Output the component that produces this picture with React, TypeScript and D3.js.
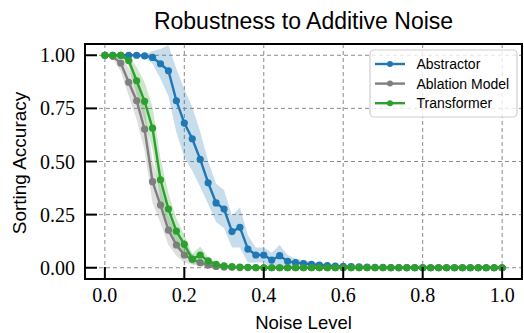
import React from "react";
import * as d3 from "d3";

const noise = d3.range(51).map((i) => +(i * 0.02).toFixed(2));

const abstractorMean = [
  1, 1, 1, 1, 1, 0.997, 0.99, 0.96, 0.927, 0.786, 0.681, 0.607, 0.51, 0.4, 0.305, 0.276, 0.17,
  0.19, 0.088, 0.06, 0.06, 0.036, 0.057, 0.03, 0.024, 0.02, 0.016, 0.013, 0.01, 0.008, 0.007,
  0.005, 0.004, 0.003, 0.002, 0.002, 0.001, 0.001, 0.001, 0.001, 0, 0, 0, 0, 0, 0, 0, 0, 0, 0, 0,
];
const abstractorStd = [
  0, 0, 0, 0, 0, 0.006, 0.03, 0.07, 0.12, 0.15, 0.16, 0.15, 0.13, 0.1, 0.09, 0.09, 0.075, 0.095,
  0.065, 0.035, 0.035, 0.035, 0.05, 0.03, 0.02, 0.015, 0.012, 0.01, 0.008, 0.006, 0.005, 0.004,
  0.003, 0.002, 0.002, 0.001, 0.001, 0.001, 0, 0, 0, 0, 0, 0, 0, 0, 0, 0, 0, 0, 0,
];
const ablationMean = [
  1, 0.995, 0.963, 0.873, 0.786, 0.652, 0.405, 0.295, 0.177, 0.107, 0.06, 0.04, 0.024, 0.012,
  0.006, 0.003, 0.002, 0.001, 0.001, 0, 0, 0, 0, 0, 0, 0, 0, 0, 0, 0, 0, 0, 0, 0, 0, 0, 0, 0, 0,
  0, 0, 0, 0, 0, 0, 0, 0, 0, 0, 0, 0,
];
const ablationStd = [
  0, 0.012, 0.04, 0.065, 0.09, 0.1, 0.1, 0.085, 0.07, 0.05, 0.035, 0.025, 0.017, 0.011, 0.006,
  0.003, 0.002, 0.001, 0, 0, 0, 0, 0, 0, 0, 0, 0, 0, 0, 0, 0, 0, 0, 0, 0, 0, 0, 0, 0, 0, 0, 0, 0,
  0, 0, 0, 0, 0, 0, 0, 0,
];
const transformerMean = [
  1, 1, 1, 0.975, 0.88, 0.783, 0.657, 0.414, 0.276, 0.172, 0.11, 0.041, 0.06, 0.032, 0.016,
  0.009, 0.005, 0.003, 0.002, 0.001, 0, 0, 0, 0, 0, 0, 0, 0, 0, 0, 0, 0, 0, 0, 0, 0, 0, 0, 0, 0,
  0, 0, 0, 0, 0, 0, 0, 0, 0, 0, 0,
];
const transformerStd = [
  0, 0, 0.005, 0.025, 0.065, 0.09, 0.1, 0.1, 0.075, 0.06, 0.045, 0.025, 0.04, 0.017, 0.01, 0.005,
  0.003, 0.002, 0.001, 0, 0, 0, 0, 0, 0, 0, 0, 0, 0, 0, 0, 0, 0, 0, 0, 0, 0, 0, 0, 0, 0, 0, 0, 0,
  0, 0, 0, 0, 0, 0, 0,
];

const seriesNames = ["Abstractor", "Ablation Model", "Transformer"];
const seriesColors = ["#1f77b4", "#7f7f7f", "#2ca02c"];
const xTicks = [0, 0.2, 0.4, 0.6, 0.8, 1.0];
const yTicks = [0, 0.25, 0.5, 0.75, 1.0];

const W = 524;
const H = 333;
const L = 85;
const R = 522;
const T = 44;
const B = 279;

export default function App() {
  const x = d3.scaleLinear().domain([-0.05, 1.05]).range([L, R]);
  const y = d3.scaleLinear().domain([-0.053, 1.053]).range([B, T]);
  const means = [abstractorMean, ablationMean, transformerMean];
  const stds = [abstractorStd, ablationStd, transformerStd];

  const line = d3
    .line<number>()
    .x((_, i) => x(noise[i]))
    .y((d) => y(d));
  const area = (m: number[], s: number[]) =>
    d3
      .area<number>()
      .x((_, i) => x(noise[i]))
      .y0((d, i) => y(d - s[i]))
      .y1((d, i) => y(d + s[i]))(m) as string;

  const sans = "'Liberation Sans', Arial, sans-serif";
  const serif = "'Liberation Serif', 'Times New Roman', serif";

  return (
    <svg
      width={W}
      height={H}
      style={{ position: "absolute", left: 0, top: 0, background: "#fff" }}
    >
      <defs>
        <clipPath id="plot">
          <rect x={L} y={T} width={R - L} height={B - T} />
        </clipPath>
      </defs>
      <rect x={0} y={0} width={W} height={H} fill="#fff" />
      {xTicks.map((t) => (
        <line
          key={"gx" + t}
          x1={x(t)}
          x2={x(t)}
          y1={T}
          y2={B}
          stroke="#8a8a8a"
          strokeWidth={1}
          strokeDasharray="4,3"
        />
      ))}
      {yTicks.map((t) => (
        <line
          key={"gy" + t}
          x1={L}
          x2={R}
          y1={y(t)}
          y2={y(t)}
          stroke="#8a8a8a"
          strokeWidth={1}
          strokeDasharray="4,3"
        />
      ))}
      <g clipPath="url(#plot)">
        {means.map((m, k) => (
          <g key={"s" + k}>
            <path d={area(m, stds[k])} fill={seriesColors[k]} fillOpacity={0.25} stroke="none" />
            <path d={line(m) as string} fill="none" stroke={seriesColors[k]} strokeWidth={2.4} />
            {m.map((v, i) => (
              <circle key={i} cx={x(noise[i])} cy={y(v)} r={3.6} fill={seriesColors[k]} />
            ))}
          </g>
        ))}
      </g>
      {xTicks.map((t) => (
        <g key={"tx" + t}>
          <line x1={x(t)} x2={x(t)} y1={B} y2={B - 12} stroke="#000" strokeWidth={2} />
          <text
            x={x(t)}
            y={301.5}
            textAnchor="middle"
            fontFamily={serif}
            fontSize={20}
            fill="#000"
          >
            {t.toFixed(1)}
          </text>
        </g>
      ))}
      {yTicks.map((t) => (
        <g key={"ty" + t}>
          <line x1={L} x2={L + 12} y1={y(t)} y2={y(t)} stroke="#000" strokeWidth={2} />
          <text
            x={75}
            y={y(t) + 7}
            textAnchor="end"
            fontFamily={serif}
            fontSize={20}
            fill="#000"
          >
            {t.toFixed(2)}
          </text>
        </g>
      ))}
      <rect x={L} y={T} width={R - L} height={B - T} fill="none" stroke="#000" strokeWidth={2} />
      <g>
        <rect
          x={370}
          y={50}
          width={147}
          height={67}
          rx={4}
          fill="#fff"
          fillOpacity={0.8}
          stroke="#d0d0d0"
          strokeWidth={1.2}
        />
        {seriesNames.map((n, k) => {
          const ly = 64 + k * 19.6;
          return (
            <g key={"lg" + k}>
              <line x1={375} x2={405} y1={ly} y2={ly} stroke={seriesColors[k]} strokeWidth={2.4} />
              <circle cx={390} cy={ly} r={3} fill={seriesColors[k]} />
              <text x={416.5} y={ly + 5} fontFamily={sans} fontSize={14} fill="#000">
                {n}
              </text>
            </g>
          );
        })}
      </g>
      <text
        x={(L + R) / 2}
        y={29}
        textAnchor="middle"
        fontFamily={sans}
        fontSize={23}
        fill="#000"
      >
        Robustness to Additive Noise
      </text>
      <text
        x={(L + R) / 2}
        y={328.5}
        textAnchor="middle"
        fontFamily={sans}
        fontSize={18.5}
        fill="#000"
      >
        Noise Level
      </text>
      <text
        transform={`translate(26,163) rotate(-90)`}
        textAnchor="middle"
        fontFamily={sans}
        fontSize={19}
        fill="#000"
      >
        Sorting Accuracy
      </text>
    </svg>
  );
}
